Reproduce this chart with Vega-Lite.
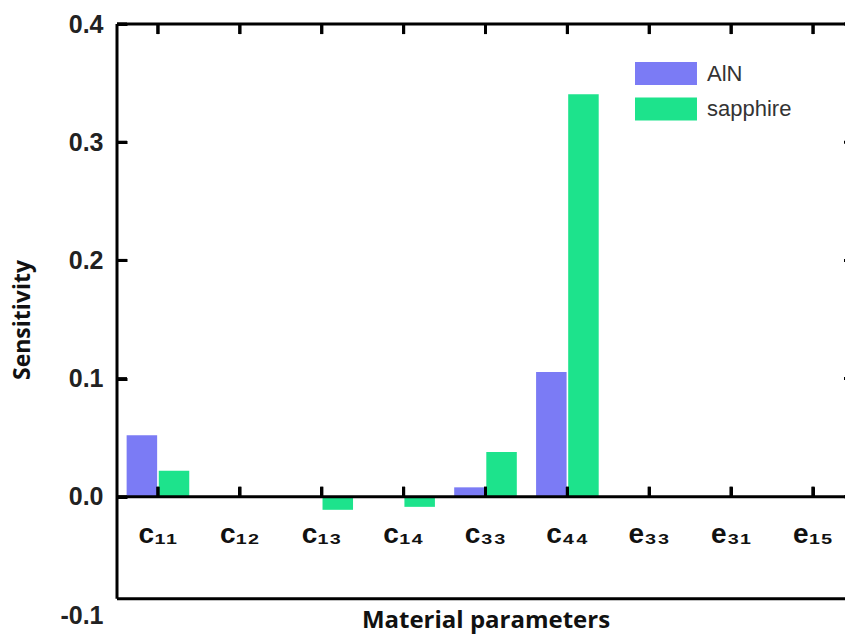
{
  "$schema": "https://vega.github.io/schema/vega-lite/v6.json",
  "width": 737,
  "height": 591,
  "autosize": {"type": "none"},
  "padding": {"left": 117, "top": 24, "right": 0, "bottom": 23},
  "background": "white",
  "config": {"view": {"stroke": null}},
  "datasets": {
    "bars": [
      {"param": "c₁₁", "material": "AlN", "sensitivity": 0.052},
      {"param": "c₁₁", "material": "sapphire", "sensitivity": 0.022},
      {"param": "c₁₂", "material": "AlN", "sensitivity": 0},
      {"param": "c₁₂", "material": "sapphire", "sensitivity": 0},
      {"param": "c₁₃", "material": "AlN", "sensitivity": 0},
      {"param": "c₁₃", "material": "sapphire", "sensitivity": -0.011},
      {"param": "c₁₄", "material": "AlN", "sensitivity": 0},
      {"param": "c₁₄", "material": "sapphire", "sensitivity": -0.0085},
      {"param": "c₃₃", "material": "AlN", "sensitivity": 0.008},
      {"param": "c₃₃", "material": "sapphire", "sensitivity": 0.038},
      {"param": "c₄₄", "material": "AlN", "sensitivity": 0.1055},
      {"param": "c₄₄", "material": "sapphire", "sensitivity": 0.3405},
      {"param": "e₃₃", "material": "AlN", "sensitivity": 0},
      {"param": "e₃₃", "material": "sapphire", "sensitivity": 0},
      {"param": "e₃₁", "material": "AlN", "sensitivity": 0},
      {"param": "e₃₁", "material": "sapphire", "sensitivity": 0},
      {"param": "e₁₅", "material": "AlN", "sensitivity": 0},
      {"param": "e₁₅", "material": "sapphire", "sensitivity": 0}
    ],
    "frame": [{"edge": "frame"}],
    "yticks": [{"v": 0}, {"v": 0.1}, {"v": 0.2}, {"v": 0.3}, {"v": 0.4}]
  },
  "resolve": {"scale": {"x": "independent"}, "axis": {"x": "independent", "y": "independent"}},
  "layer": [
    {
      "resolve": {"axis": {"x": "independent", "y": "independent"}},
      "layer": [
        {
          "data": {"name": "bars"},
          "mark": {"type": "bar"},
          "encoding": {
            "x": {
              "field": "param",
              "type": "nominal",
              "sort": null,
              "scale": {
                "domain": ["c₁₁", "c₁₂", "c₁₃", "c₁₄", "c₃₃", "c₄₄", "e₃₃", "e₃₁", "e₁₅"],
                "paddingInner": 0,
                "paddingOuter": 0
              },
              "axis": {
                "orient": "bottom",
                "offset": -128,
                "domain": false,
                "ticks": true,
                "tickSize": 10,
                "tickWidth": 3,
                "tickColor": "black",
                "labelAngle": 0,
                "labelFont": "Liberation Sans",
                "labelFontWeight": "bold",
                "labelFontSize": 28,
                "labelColor": "#111111",
                "labelBaseline": "alphabetic",
                "labelPadding": 45,
                "title": "Material parameters",
                "titleFont": "Open Sans",
                "titleFontWeight": "bold",
                "titleFontSize": 24,
                "titleColor": "#111111",
                "titlePadding": 60
              }
            },
            "xOffset": {
              "field": "material",
              "type": "nominal",
              "scale": {"paddingInner": 0.05, "paddingOuter": 0.3}
            },
            "y": {
              "field": "sensitivity",
              "type": "quantitative",
              "scale": {"domain": [-0.1, 0.4], "nice": false, "zero": false},
              "axis": {
                "orient": "left",
                "offset": -10,
                "values": [-0.1, 0, 0.1, 0.2, 0.3, 0.4],
                "domain": false,
                "grid": false,
                "ticks": true,
                "tickSize": 10,
                "tickWidth": 3,
                "tickColor": {"condition": {"test": "datum.value < -0.05", "value": "transparent"}, "value": "black"},
                "labelExpr": "datum.value < -0.05 ? '-0.1' : format(datum.value, '.1f')",
                "labelFont": "Liberation Sans",
                "labelFontWeight": "bold",
                "labelFontSize": 25,
                "labelColor": "#222222",
                "labelPadding": 14,
                "title": "Sensitivity",
                "titleFont": "Open Sans",
                "titleFontWeight": "bold",
                "titleFontSize": 23,
                "titleColor": "#111111",
                "titlePadding": 25
              }
            },
            "color": {
              "field": "material",
              "type": "nominal",
              "scale": {"domain": ["AlN", "sapphire"], "range": ["#7B7BF5", "#1DE38C"]},
              "legend": {
                "title": null,
                "orient": "none",
                "legendX": 518,
                "legendY": 38,
                "padding": 0,
                "symbolType": "M-1,-1H4.39V1H-1Z",
                "symbolSize": 529,
                "symbolStrokeWidth": 0,
                "symbolOpacity": 1,
                "labelOffset": 49,
                "rowPadding": 12.5,
                "labelFont": "Liberation Sans",
                "labelFontSize": 22,
                "labelColor": "#333333"
              }
            }
          }
        },
        {
          "data": {"name": "bars"},
          "mark": {"type": "bar", "width": 3, "color": "black", "opacity": 1},
          "encoding": {
            "x": {"field": "param", "type": "nominal", "sort": null, "axis": null},
            "y": {"datum": 0, "type": "quantitative", "axis": null},
            "y2": {"datum": 0.0085}
          }
        },
        {
          "data": {"name": "bars"},
          "mark": {"type": "bar", "width": 3, "color": "black", "opacity": 1},
          "encoding": {
            "x": {"field": "param", "type": "nominal", "sort": null, "axis": null},
            "y": {"datum": 0.3915, "type": "quantitative", "axis": null},
            "y2": {"datum": 0.4}
          }
        },
        {
          "data": {"name": "frame"},
          "mark": {"type": "rule", "color": "black", "strokeWidth": 3},
          "encoding": {"y": {"datum": 0, "type": "quantitative", "axis": null}}
        },
        {
          "data": {"name": "frame"},
          "mark": {"type": "rule", "color": "black", "strokeWidth": 3},
          "encoding": {"y": {"datum": 0.4, "type": "quantitative", "axis": null}}
        },
        {
          "data": {"name": "frame"},
          "mark": {"type": "rule", "color": "black", "strokeWidth": 3},
          "encoding": {"y": {"datum": -0.0863, "type": "quantitative", "axis": null}}
        },
        {
          "data": {"name": "frame"},
          "mark": {"type": "rule", "color": "black", "strokeWidth": 3},
          "encoding": {
            "x": {"datum": "c₁₁", "type": "nominal", "bandPosition": 0, "axis": null},
            "y": {"datum": -0.0863, "type": "quantitative", "axis": null},
            "y2": {"datum": 0.4}
          }
        },
        {
          "data": {"name": "frame"},
          "mark": {"type": "rule", "color": "black", "strokeWidth": 3},
          "encoding": {
            "x": {"datum": "e₁₅", "type": "nominal", "bandPosition": 1, "axis": null},
            "y": {"datum": -0.0863, "type": "quantitative", "axis": null},
            "y2": {"datum": 0.4}
          }
        }
      ]
    },
    {
      "layer": [
        {
          "data": {"name": "yticks"},
          "mark": {"type": "tick", "orient": "horizontal", "size": 10, "thickness": 3, "color": "black", "opacity": 1},
          "encoding": {
            "x": {"datum": 0.061, "type": "quantitative", "scale": {"domain": [0, 9], "nice": false, "zero": false}, "axis": null},
            "y": {"field": "v", "type": "quantitative", "axis": null}
          }
        },
        {
          "data": {"name": "yticks"},
          "mark": {"type": "tick", "orient": "horizontal", "size": 10, "thickness": 3, "color": "black", "opacity": 1},
          "encoding": {
            "x": {"datum": 8.939, "type": "quantitative", "axis": null},
            "y": {"field": "v", "type": "quantitative", "axis": null}
          }
        }
      ]
    }
  ]
}
